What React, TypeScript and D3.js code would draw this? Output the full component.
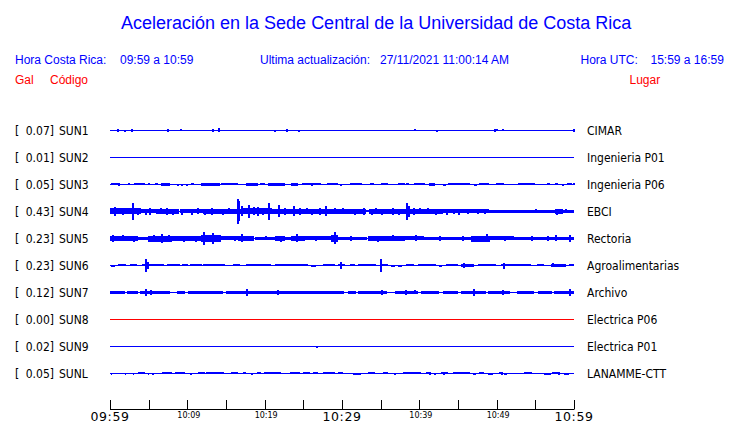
import React from 'react';
import * as d3 from 'd3';

// ---- Data ----
const stations = ['SUN1', 'SUN2', 'SUN3', 'SUN4', 'SUN5', 'SUN6', 'SUN7', 'SUN8', 'SUN9', 'SUNL'];
const places = ['CIMAR', 'Ingenieria P01', 'Ingenieria P06', 'EBCI', 'Rectoria', 'Agroalimentarias', 'Archivo', 'Electrica P06', 'Electrica P01', 'LANAMME-CTT'];
const peaks = ['0.07', '0.01', '0.05', '0.43', '0.23', '0.23', '0.12', '0.00', '0.02', '0.05'];
const tickMinutes = [0, 5, 10, 15, 20, 25, 30, 35, 40, 45, 50, 55, 60];
const tickLabels = ['09:59', '', '10:09', '', '10:19', '', '10:29', '', '10:39', '', '10:49', '', '10:59'];
const majorTicks = ['09:59', '10:29', '10:59'];

type Seg = [number, number, number]; // [start min, end min, half amplitude gal]
type Spike = [number, number]; // [minute, half amplitude gal]

const sun1Segs: Seg[] = [[9.05, 9.3, 0.035], [39.25, 39.5, 0.035], [50.7, 50.95, 0.035]];
const sun1Spikes: Spike[] = [[0.86, 0.045], [1.85, 0.02], [2.75, 0.055], [7.31, 0.045], [13.2, 0.055], [14.0, 0.07], [21.2, 0.02], [22.75, 0.055], [24.3, 0.02], [42.2, 0.025], [49.7, 0.045], [49.9, 0.04], [59.9, 0.045]];

const sun2Segs: Seg[] = [];
const sun2Spikes: Spike[] = [];

const sun3Segs: Seg[] = [[0.13, 1.29, 0.04], [2.28, 2.58, 0.035], [3.14, 4.52, 0.04], [4.86, 5.16, 0.035], [5.81, 6.24, 0.035], [6.58, 7.74, 0.045], [8.6, 8.8, 0.03], [9.2, 9.5, 0.03], [9.8, 10.1, 0.03], [10.45, 10.88, 0.04], [11.74, 14.19, 0.045], [14.4, 16.56, 0.04], [17.63, 19.14, 0.045], [19.35, 20.0, 0.035], [20.43, 22.58, 0.045], [23.44, 24.39, 0.045], [24.82, 27.3, 0.04], [28.1, 29.46, 0.04], [29.8, 30.1, 0.03], [30.97, 32.47, 0.04], [33.63, 34.1, 0.04], [35.05, 35.91, 0.04], [37.2, 38.06, 0.04], [38.28, 38.7, 0.035], [39.27, 40.64, 0.04], [41.3, 42.06, 0.045], [43.0, 43.44, 0.03], [43.66, 46.45, 0.04], [47.1, 47.44, 0.03], [47.74, 49.03, 0.04], [49.9, 50.97, 0.035], [52.7, 54.84, 0.04], [56.56, 56.99, 0.035], [57.5, 57.85, 0.035], [58.5, 58.7, 0.03], [59.14, 59.78, 0.035]];
const sun3Spikes: Spike[] = [[1.0, 0.05], [13.0, 0.05], [26.0, 0.05], [59.9, 0.04]];

const sun4Segs: Seg[] = [[0, 4, 0.105], [4, 6, 0.075], [6, 9, 0.09], [9, 12, 0.075], [12, 16, 0.08], [16, 17, 0.085], [17, 21, 0.11], [21, 25, 0.09], [25, 28, 0.08], [28, 33, 0.08], [33, 33.5, 0.04], [33.5, 38, 0.085], [38, 43, 0.085], [43, 49, 0.075], [49, 53, 0.045], [53, 57.5, 0.05], [57.5, 58.5, 0.08], [58.5, 60, 0.06]];
const sun4Spikes: Spike[] = [[0.56, 0.16], [1.5, 0.13], [2.8, 0.3], [3.5, 0.12], [4.5, 0.1], [5.0, 0.12], [6.5, 0.11], [7.2, 0.12], [8.0, 0.1], [9.2, 0.1], [10.5, 0.1], [11.3, 0.11], [12.2, 0.1], [13.0, 0.12], [14.5, 0.1], [15.3, 0.11], [16.4, 0.43], [16.6, 0.35], [17.0, 0.18], [17.85, 0.23], [18.5, 0.14], [19.0, 0.15], [19.6, 0.13], [20.4, 0.29], [21.7, 0.21], [22.5, 0.13], [23.7, 0.18], [24.5, 0.12], [25.3, 0.11], [26.0, 0.1], [27.0, 0.12], [27.8, 0.18], [29.0, 0.11], [30.0, 0.11], [31.5, 0.1], [32.7, 0.12], [33.8, 0.1], [34.3, 0.11], [35.0, 0.1], [36.5, 0.12], [37.2, 0.1], [38.3, 0.29], [38.5, 0.2], [39.2, 0.12], [40.0, 0.11], [41.0, 0.11], [42.0, 0.1], [43.5, 0.1], [44.3, 0.09], [45.0, 0.1], [46.2, 0.09], [47.5, 0.09], [48.3, 0.08], [52.0, 0.06], [55.0, 0.07], [57.7, 0.1], [58.9, 0.07]];

const sun5Segs: Seg[] = [[0, 3.65, 0.095], [3.65, 4.95, 0.06], [4.95, 8.0, 0.1], [8.0, 11.8, 0.08], [11.8, 14.4, 0.12], [14.4, 16.6, 0.07], [16.6, 18.7, 0.08], [18.7, 21.3, 0.05], [21.3, 22.6, 0.08], [22.6, 23.4, 0.05], [23.4, 25.2, 0.09], [25.2, 28.6, 0.07], [28.6, 29.5, 0.12], [29.5, 33.3, 0.06], [33.3, 38.1, 0.08], [38.1, 40.6, 0.07], [40.6, 46.7, 0.06], [46.7, 49.2, 0.1], [49.2, 52.3, 0.07], [52.3, 60, 0.06]];
const sun5Spikes: Spike[] = [[0.3, 0.12], [1.5, 0.11], [3.0, 0.1], [5.5, 0.13], [6.6, 0.16], [7.5, 0.12], [9.5, 0.1], [11.0, 0.1], [12.0, 0.23], [13.2, 0.2], [14.0, 0.13], [16.0, 0.09], [17.0, 0.14], [20.0, 0.07], [22.0, 0.1], [24.0, 0.14], [26.5, 0.09], [29.0, 0.21], [31.0, 0.08], [34.5, 0.1], [36.5, 0.11], [39.4, 0.11], [42.5, 0.08], [45.5, 0.08], [48.6, 0.14], [51.0, 0.09], [54.5, 0.08], [56.5, 0.08], [57.6, 0.11], [59.4, 0.12]];

const sun6Segs: Seg[] = [[0.13, 0.65, 0.03], [1.08, 2.15, 0.035], [2.58, 3.44, 0.035], [4.09, 6.88, 0.04], [7.31, 9.03, 0.035], [9.33, 10.1, 0.035], [10.32, 11.83, 0.035], [12.04, 14.84, 0.04], [15.91, 16.77, 0.035], [17.63, 20.86, 0.04], [21.29, 25.59, 0.04], [26.02, 26.67, 0.03], [27.53, 29.03, 0.035], [29.46, 30.32, 0.035], [30.97, 31.61, 0.035], [32.04, 34.41, 0.035], [35.05, 35.91, 0.035], [36.34, 36.8, 0.03], [37.3, 37.8, 0.03], [38.3, 39.35, 0.035], [39.78, 42.15, 0.04], [42.58, 43.01, 0.03], [43.44, 44.95, 0.035], [45.38, 47.1, 0.055], [47.53, 49.89, 0.035], [50.54, 54.41, 0.04], [55.27, 56.13, 0.035], [56.99, 58.92, 0.055], [59.35, 60, 0.04]];
const sun6Spikes: Spike[] = [[4.52, 0.23], [4.73, 0.12], [29.72, 0.13], [34.88, 0.22], [45.6, 0.08], [50.84, 0.1], [57.2, 0.07]];

const sun7Segs: Seg[] = [[0, 1.9, 0.055], [2.2, 3.6, 0.047], [3.9, 7.75, 0.047], [8.6, 9.6, 0.047], [10.1, 14.6, 0.047], [15.0, 30.3, 0.047], [30.8, 31.8, 0.047], [32.1, 35.9, 0.047], [36.8, 39.8, 0.047], [40.2, 42.5, 0.047], [43.0, 44.9, 0.047], [45.4, 48.6, 0.047], [48.9, 51.8, 0.047], [52.6, 54.8, 0.047], [55.3, 57.1, 0.047], [57.4, 60, 0.047]];
const sun7Spikes: Spike[] = [[4.5, 0.12], [5.15, 0.09], [17.6, 0.12], [21.6, 0.09], [35.0, 0.08], [38.2, 0.09], [39.3, 0.07], [46.9, 0.12], [50.75, 0.09], [53.0, 0.06], [59.4, 0.12]];

const sun8Segs: Seg[] = [];
const sun8Spikes: Spike[] = [];

const sun9Segs: Seg[] = [];
const sun9Spikes: Spike[] = [[26.6, 0.02]];

const sunLSegs: Seg[] = [[0.13, 0.3, 0.03], [1.94, 2.06, 0.03], [3.01, 3.14, 0.03], [3.66, 4.52, 0.035], [4.86, 5.03, 0.03], [5.38, 5.59, 0.03], [6.67, 7.96, 0.035], [8.39, 9.68, 0.035], [10.32, 10.62, 0.03], [11.4, 12.26, 0.035], [12.47, 14.84, 0.035], [15.7, 16.56, 0.04], [17.2, 17.63, 0.035], [18.28, 18.49, 0.03], [19.05, 19.57, 0.035], [19.91, 22.15, 0.035], [23.23, 24.52, 0.035], [24.95, 25.81, 0.035], [26.24, 26.88, 0.035], [27.53, 29.03, 0.04], [29.46, 30.11, 0.035], [31.4, 32.47, 0.03], [33.33, 34.19, 0.035], [35.27, 35.91, 0.035], [36.77, 36.99, 0.03], [37.85, 40.22, 0.04], [40.86, 41.51, 0.035], [41.94, 42.15, 0.03], [42.8, 43.66, 0.035], [44.3, 46.45, 0.04], [46.88, 47.31, 0.03], [47.74, 48.39, 0.035], [48.82, 49.46, 0.03], [50.32, 50.75, 0.035], [50.97, 51.4, 0.03], [53.55, 54.62, 0.035], [56.13, 56.99, 0.03], [57.2, 58.28, 0.035], [58.71, 59.35, 0.03]];
const sunLSpikes: Spike[] = [[41.3, 0.05], [43.0, 0.045], [50.6, 0.05], [57.9, 0.045]];

const segsByStation: Seg[][] = [sun1Segs, sun2Segs, sun3Segs, sun4Segs, sun5Segs, sun6Segs, sun7Segs, sun8Segs, sun9Segs, sunLSegs];
const spikesByStation: Spike[][] = [sun1Spikes, sun2Spikes, sun3Spikes, sun4Spikes, sun5Spikes, sun6Spikes, sun7Spikes, sun8Spikes, sun9Spikes, sunLSpikes];
const lineColors = ['#0000ff', '#0000ff', '#0000ff', '#0000ff', '#0000ff', '#0000ff', '#0000ff', '#ff0000', '#0000ff', '#0000ff'];

const W = 740;
const H = 423;
const BLUE = '#0000ff';
const RED = '#ff0000';
const SANS = '"Liberation Sans", Arial, Helvetica, sans-serif';
const DJ = '"DejaVu Sans Condensed", "DejaVu Sans", sans-serif';

export default function App() {
  const x = d3.scaleLinear().domain([0, 60]).range([110, 574]);
  const row = d3.scaleLinear().domain([0, 1]).range([130.5, 157.5]);
  const amp = d3.scaleLinear().domain([0, 0.43]).range([0, 12.3]);

  return (
    <svg width={W} height={H} style={{ position: 'absolute', left: 0, top: 0, background: '#fff' }}>
      <rect x={0} y={0} width={W} height={H} fill="#fff" />
      <text x={121} y={29} fill={BLUE} fontFamily={SANS} fontSize={18}>
        Aceleración en la Sede Central de la Universidad de Costa Rica
      </text>
      <g fontFamily={SANS} fontSize={12} fill={BLUE}>
        <text x={15} y={64}>Hora Costa Rica:</text>
        <text x={120} y={64}>09:59 a 10:59</text>
        <text x={260} y={64}>Ultima actualización:</text>
        <text x={380} y={64}>27/11/2021 11:00:14 AM</text>
        <text x={580.5} y={64}>Hora UTC:</text>
        <text x={650.5} y={64}>15:59 a 16:59</text>
      </g>
      <g fontFamily={SANS} fontSize={12} fill={RED}>
        <text x={15} y={84}>Gal</text>
        <text x={50} y={84}>Código</text>
        <text x={629.5} y={84}>Lugar</text>
      </g>

      {stations.map((s, i) => {
        const cy = row(i);
        const col = lineColors[i];
        return (
          <g key={s}>
            <text x={15} y={cy + 4} fontFamily={DJ} fontSize={12} fill="#000">[</text>
            <text x={54} y={cy + 4} fontFamily={DJ} fontSize={12} fill="#000" textAnchor="end">{peaks[i]}]</text>
            <text x={59} y={cy + 4} fontFamily={DJ} fontSize={12} fill="#000">{s}</text>
            <text x={587} y={cy + 4} fontFamily={DJ} fontSize={12} fill="#000">{places[i]}</text>
            <line x1={x(0)} x2={x(60)} y1={cy} y2={cy} stroke={col} strokeWidth={1} />
            {segsByStation[i].map((d, j) => {
              const a = Math.max(1, amp(d[2]));
              return (
                <rect key={'s' + j} x={Math.round(x(d[0]))} width={Math.max(1, Math.round(x(d[1]) - x(d[0])))}
                  y={Math.round(cy - a)} height={Math.round(2 * a)} fill={col} shapeRendering="crispEdges" />
              );
            })}
            {spikesByStation[i].map((d, j) => {
              const a = Math.max(1, amp(d[1]));
              return (
                <rect key={'p' + j} x={Math.round(x(d[0]))} width={1.5}
                  y={Math.round(cy - a)} height={Math.round(2 * a)} fill={col} shapeRendering="crispEdges" />
              );
            })}
          </g>
        );
      })}

      <g>
        <line x1={x(0)} x2={x(60)} y1={409.5} y2={409.5} stroke="#000" strokeWidth={1} />
        {tickMinutes.map((m, i) => (
          <g key={m}>
            <line x1={Math.round(x(m)) + 0.5} x2={Math.round(x(m)) + 0.5} y1={400} y2={409.5} stroke="#000" strokeWidth={1} />
            {tickLabels[i] && (
              majorTicks.includes(tickLabels[i]) ? (
                <text x={x(m)} y={420.5} textAnchor="middle" fontFamily='"DejaVu Sans", sans-serif' fontSize={12.5} fill="#000" letterSpacing={0.6}>{tickLabels[i]}</text>
              ) : (
                <text x={x(m) + 1.5} y={417.5} textAnchor="middle" fontFamily='"DejaVu Sans", sans-serif' fontSize={8} fill="#000">{tickLabels[i]}</text>
              )
            )}
          </g>
        ))}
      </g>
    </svg>
  );
}
